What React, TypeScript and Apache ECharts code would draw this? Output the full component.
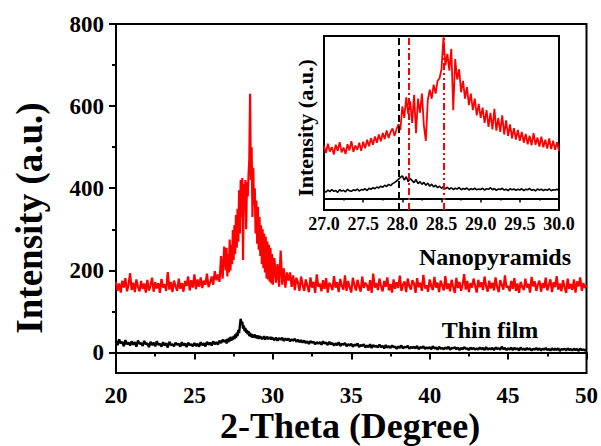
import React, { useEffect, useRef } from "react";
import * as echarts from "echarts";

// ---- Main chart data (2-Theta in degrees, intensity in a.u.) ----
// Nanopyramids, 20.0 - 26.9 step 0.1
const nanoLow = [
  172, 150, 168, 146, 175, 158, 181, 149, 165, 193,
  152, 170, 147, 178, 160, 149, 174, 155, 168, 146,
  177, 151, 163, 182, 148, 171, 156, 169, 145, 179,
  158, 166, 150, 196, 153, 172, 147, 175, 161, 150,
  180, 155, 169, 148, 174, 162, 185, 151, 176, 158,
  190, 154, 178, 160, 183, 157, 175, 165, 192, 159,
  170, 185, 165, 198, 176, 190, 172, 235, 180, 258,
];
// Nanopyramids, 27.00 - 30.00 step 0.05
const nanoMid = [
  200, 255, 185, 240, 195, 275, 200, 262, 215, 298,
  225, 310, 240, 335, 255, 350, 270, 395, 290, 420,
  330, 425, 225, 410, 345, 420, 300, 415, 380, 430,
  470, 630, 420, 500, 330, 450, 360, 400, 290, 370,
  265, 355, 250, 330, 235, 310, 215, 300, 205, 290,
  195, 282, 180, 270, 178, 262, 172, 255, 168, 240,
  165,
];
// Nanopyramids, 30.1 - 50.0 step 0.1
const nanoHigh = [
  230, 170, 215, 160, 248, 165, 205, 158, 195,
  175, 195, 160, 188, 152, 182, 170, 150, 185, 165,
  150, 178, 162, 147, 183, 158, 172, 145, 190, 160,
  168, 149, 176, 155, 181, 146, 170, 163, 152, 186,
  158, 171, 147, 179, 162, 153, 188, 150, 174, 159,
  146, 182, 165, 151, 177, 160, 148, 185, 157, 170,
  163, 150, 176, 145, 192, 158, 169, 152, 180, 161,
  149, 174, 160, 183, 151, 167, 146, 178, 155, 171,
  157, 187, 150, 165, 173, 147, 180, 162, 153, 176,
  168, 145, 181, 159, 170, 150, 189, 156, 164, 148,
  178, 161, 152, 184, 158, 170, 147, 175, 163, 151,
  186, 155, 168, 149, 177, 160, 145, 182, 157, 172,
  150, 165, 191, 153, 174, 147, 169, 158, 180, 162,
  146, 177, 159, 171, 152, 185, 161, 148, 175, 156,
  170, 151, 183, 160, 147, 176, 164, 153, 188, 158,
  162, 149, 174, 155, 181, 150, 168, 145, 172, 160,
  152, 180, 158, 167, 146, 184, 161, 173, 150, 166,
  175, 148, 169, 157, 182, 151, 164, 178, 147, 171,
  159, 186, 153, 168, 149, 176, 160, 145, 180, 155,
  167, 152, 178, 146, 173, 161, 183, 150, 169, 157,
  164,
];
// Thin film, 20.0 - 26.9 step 0.1
const filmLow = [
  28, 18, 32, 22, 26, 15, 30, 20, 24, 17,
  27, 19, 25, 14, 29, 21, 23, 16, 28, 20,
  22, 13, 26, 18, 24, 15, 27, 19, 21, 14,
  25, 17, 23, 12, 26, 18, 20, 15, 24, 19,
  21, 14, 25, 17, 22, 13, 24, 18, 20, 15,
  23, 16, 21, 14, 25, 18, 22, 15, 26, 19,
  24, 17, 27, 20, 25, 19, 29, 23, 31, 26,
];
// Thin film, 27.00 - 30.00 step 0.05
const filmMid = [
  30, 22, 33, 25, 35, 27, 38, 29, 36, 31,
  40, 33, 44, 36, 48, 40, 55, 47, 66, 82,
  70, 75, 58, 66, 52, 60, 48, 55, 44, 52,
  40, 48, 38, 45, 36, 43, 37, 44, 35, 42,
  34, 41, 33, 40, 35, 39, 32, 38, 33, 40,
  31, 37, 34, 39, 32, 36, 33, 38, 31, 37,
  34,
];
// Thin film, 30.1 - 50.0 step 0.1
const filmHigh = [
  30, 36, 29, 35, 31, 36, 28, 34, 30,
  34, 27, 32, 29, 33, 26, 31, 25, 30, 24,
  29, 23, 27, 21, 28, 24, 26, 20, 25, 22,
  25, 19, 27, 22, 24, 18, 26, 20, 23, 17,
  22, 18, 25, 16, 21, 19, 23, 15, 20, 17,
  21, 14, 19, 17, 22, 13, 18, 16, 20, 12,
  17, 13, 20, 11, 18, 14, 16, 12, 19, 13,
  16, 10, 18, 12, 15, 11, 17, 13, 14, 9,
  15, 11, 17, 10, 14, 12, 16, 9, 13, 11,
  14, 10, 16, 8, 13, 11, 15, 9, 12, 10,
  13, 8, 15, 10, 12, 7, 14, 9, 11, 8,
  12, 9, 14, 7, 11, 10, 13, 8, 12, 6,
  11, 8, 13, 9, 10, 6, 12, 8, 11, 7,
  10, 7, 12, 8, 11, 6, 13, 7, 10, 8,
  11, 6, 12, 9, 10, 7, 14, 8, 11, 6,
  10, 7, 12, 6, 11, 8, 10, 5, 12, 7,
  9, 6, 11, 7, 10, 5, 9, 7, 11, 6,
  10, 5, 9, 7, 11, 6, 8, 5, 10, 6,
  9, 6, 10, 4, 8, 7, 9, 5, 10, 6,
  8, 5, 9, 6, 8, 4, 9, 6, 7, 5,
  7,
];

// ---- Inset data, 27.000 - 30.000 step 0.025 ----
const insetNano = [
  205, 178, 214, 183, 201, 172, 210, 186, 220, 180, 199, 174, 212, 188, 224, 182, 207, 190, 218, 186,
  222, 196, 230, 204, 236, 210, 242, 218, 250, 224, 256, 232, 266, 236, 260, 274, 244, 270, 290, 268,
  360, 315, 395, 330, 380, 295, 405, 255, 390, 335, 410, 285, 225, 385, 425, 390, 445, 410, 460, 470,
  505, 630, 520, 565, 500, 585, 345, 545, 465, 505, 415, 460, 390, 435, 365, 410, 345, 390, 325, 370,
  315, 355, 295, 345, 280, 335, 270, 350, 265, 315, 260, 325, 250, 305, 245, 290, 235, 275, 230, 268,
  225, 260, 218, 252, 212, 245, 208, 255, 210, 238, 203, 242, 200, 230, 195, 235, 193, 226, 190, 220, 185,
];
const insetFilm = [
  30, 25, 33, 27, 35, 28, 31, 24, 34, 29, 32, 26, 36, 30, 28, 34, 31, 37, 29, 35,
  33, 38, 31, 40, 36, 42, 38, 45, 41, 48, 44, 52, 47, 55, 50, 58, 62, 68, 75, 82,
  88, 72, 85, 66, 78, 70, 62, 74, 58, 66, 55, 63, 52, 60, 48, 56, 45, 52, 42, 48,
  40, 46, 38, 44, 36, 42, 35, 40, 37, 43, 34, 39, 36, 41, 33, 38, 35, 40, 34, 37,
  35, 40, 33, 38, 36, 42, 34, 39, 32, 37, 35, 40, 33, 36, 31, 38, 34, 37, 32, 36,
  33, 38, 31, 36, 34, 39, 32, 35, 30, 37, 33, 36, 31, 35, 32, 38, 30, 34, 33, 36, 31,
];
// Peak-position markers in the inset (2-Theta)
const filmPeakLines = [27.96];
const nanoPeakLinesA = [28.08];
const nanoPeakLinesB = [28.53];

// Tick values
const mainYLabels = [0, 200, 400, 600, 800];
const mainYMinor = [100, 300, 500, 700];

const FONT = '"Liberation Serif", "Times New Roman", serif';

function seg(start: number, step: number, vals: number[]) {
  return vals.map((v, i) => [Math.round((start + i * step) * 1000) / 1000, v]);
}

export default function App() {
  const ref = useRef<HTMLDivElement>(null);
  useEffect(() => {
    if (!ref.current) return;
    const chart = echarts.init(ref.current, null, { renderer: "svg" });
    const nanoData = [...seg(20, 0.1, nanoLow), ...seg(27, 0.05, nanoMid), ...seg(30.1, 0.1, nanoHigh)];
    const filmData = [...seg(20, 0.1, filmLow), ...seg(27, 0.05, filmMid), ...seg(30.1, 0.1, filmHigh)];
    const insetNanoData = seg(27, 0.025, insetNano);
    const insetFilmData = seg(27, 0.025, insetFilm);

    const labelStyle = { color: "#000", fontFamily: FONT, fontWeight: "bold" as const };
    const txt = (text: string, x: number, y: number, size: number, rot = 0) => ({
      type: "text",
      x,
      y,
      rotation: rot,
      silent: true,
      style: {
        text,
        font: `bold ${size}px ${FONT}`,
        fill: "#000",
        textAlign: "center",
        textVerticalAlign: "middle",
        align: "center",
        verticalAlign: "middle",
      },
    });

    chart.setOption({
      animation: false,
      backgroundColor: "#fff",
      grid: [
        { left: 116, right: 13, top: 24, bottom: 73, show: true, borderColor: "#000", borderWidth: 2 },
        { left: 324, top: 36, width: 235, height: 174, show: true, borderColor: "#000", borderWidth: 2, backgroundColor: "#fff" },
      ],
      xAxis: [
        {
          gridIndex: 0,
          type: "value",
          min: 20,
          max: 50,
          interval: 5,
          axisLine: { lineStyle: { color: "#000", width: 2 } },
          axisTick: { length: 7, lineStyle: { color: "#000", width: 2 } },
          minorTick: { show: true, splitNumber: 2, length: 4, lineStyle: { color: "#000", width: 2 } },
          splitLine: { show: false },
          axisLabel: { ...labelStyle, fontSize: 23, margin: 11 },
        },
        {
          gridIndex: 1,
          type: "value",
          min: 27,
          max: 30,
          interval: 0.5,
          axisLine: { lineStyle: { color: "#000", width: 2 } },
          axisTick: { length: 4, lineStyle: { color: "#000", width: 1.5 } },
          minorTick: { show: true, splitNumber: 2, length: 2, lineStyle: { color: "#000", width: 1.5 } },
          splitLine: { show: false },
          axisLabel: { ...labelStyle, fontSize: 18, margin: 5, formatter: (v: number) => v.toFixed(1) },
        },
      ],
      yAxis: [
        {
          gridIndex: 0,
          type: "value",
          min: -50,
          max: 800,
          axisLine: { show: true, lineStyle: { color: "#000", width: 2 } },
          axisTick: { show: true, length: 7, customValues: mainYLabels, lineStyle: { color: "#000", width: 2 } },
          splitLine: { show: false },
          axisLabel: { ...labelStyle, fontSize: 23, margin: 12, customValues: mainYLabels },
        },
        {
          gridIndex: 0,
          type: "value",
          position: "left",
          offset: 0,
          min: -50,
          max: 800,
          axisLine: { show: false },
          axisTick: { show: true, length: 4, customValues: mainYMinor, lineStyle: { color: "#000", width: 2 } },
          splitLine: { show: false },
          axisLabel: { show: false },
        },
        {
          gridIndex: 1,
          type: "value",
          min: -45,
          max: 635,
          axisLine: { show: true, lineStyle: { color: "#000", width: 2 } },
          axisTick: { show: false },
          splitLine: { show: false },
          axisLabel: { show: false },
        },
      ],
      series: [
        {
          type: "line",
          name: "Thin film",
          xAxisIndex: 0,
          yAxisIndex: 0,
          data: filmData,
          showSymbol: false,
          silent: true,
          lineStyle: { color: "#000", width: 2.4 },
        },
        {
          type: "line",
          name: "Nanopyramids",
          xAxisIndex: 0,
          yAxisIndex: 0,
          data: nanoData,
          showSymbol: false,
          silent: true,
          lineStyle: { color: "#ff0000", width: 2.2 },
        },
        {
          type: "line",
          name: "Thin film inset",
          xAxisIndex: 1,
          yAxisIndex: 2,
          data: insetFilmData,
          showSymbol: false,
          silent: true,
          lineStyle: { color: "#000", width: 1.6 },
          markLine: {
            silent: true,
            symbol: ["none", "none"],
            label: { show: false },
            lineStyle: { color: "#000", width: 2, type: [7, 4] },
            data: filmPeakLines.map((x) => ({ xAxis: x })),
          },
        },
        {
          type: "line",
          name: "Nanopyramids inset",
          xAxisIndex: 1,
          yAxisIndex: 2,
          data: insetNanoData,
          showSymbol: false,
          silent: true,
          lineStyle: { color: "#ff0000", width: 1.8 },
          markLine: {
            silent: true,
            symbol: ["none", "none"],
            label: { show: false },
            data: [
              ...nanoPeakLinesA.map((x) => ({ xAxis: x, lineStyle: { color: "#ff0000", width: 2, type: [7, 3, 2, 3] } })),
              ...nanoPeakLinesB.map((x) => ({ xAxis: x, lineStyle: { color: "#ff0000", width: 2, type: [7, 3, 2, 3, 2, 3] } })),
            ],
          },
        },
      ],
      graphic: [
        txt("Intensity (a.u.)", 29, 218, 37, Math.PI / 2),
        txt("2-Theta (Degree)", 350, 426, 36),
        txt("Nanopyramids", 495, 257, 24),
        txt("Thin film", 490, 330, 24),
        txt("Intensity (a.u.)", 305, 128, 22, Math.PI / 2),
      ],
    });
    return () => chart.dispose();
  }, []);
  return <div ref={ref} style={{ width: 601, height: 446, position: "absolute", left: 0, top: 0 }} />;
}
